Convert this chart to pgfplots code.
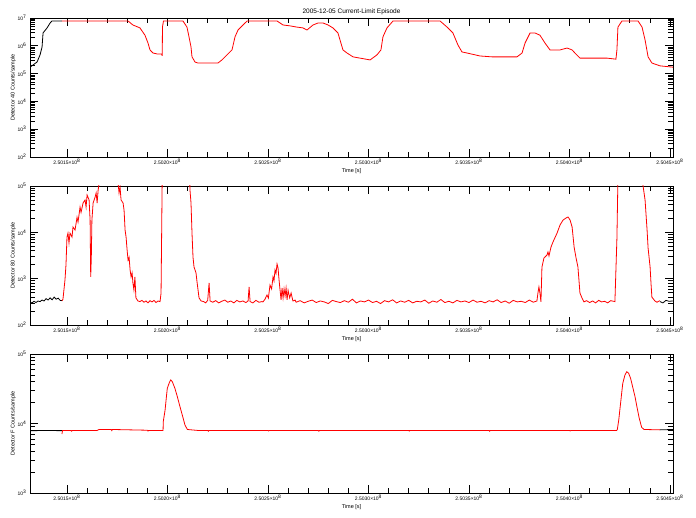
\documentclass[border=0pt]{standalone}
\usepackage{pgfplots}
\pgfplotsset{compat=1.18}
\usepackage{fontspec}
\setmainfont{Liberation Sans}

\pgfplotsset{
  idl/.style={
    scale only axis,
    width=643pt, height=139pt,
    anchor=south west,
    xmin=131.6, xmax=451.5,
    xtick={150,200,250,300,350,400,450},
    xticklabels={2.5015×10\textsuperscript{8},2.5020×10\textsuperscript{8},2.5025×10\textsuperscript{8},2.5030×10\textsuperscript{8},2.5035×10\textsuperscript{8},2.5040×10\textsuperscript{8},2.5045×10\textsuperscript{8}},
    minor x tick num=4,
    tick align=inside,
    xtick pos=both, ytick pos=both,
    major tick length=8pt, minor tick length=5pt,
    axis line style={line width=0.8pt},
    tick style={black, line width=0.6pt},
    tick label style={font=\fontsize{5}{6}\selectfont},
    x tick label style={yshift=1.5pt},
    label style={font=\fontsize{5.5}{6.5}\selectfont},
    xlabel={Time [s]},
    xlabel style={at={(axis description cs:0.5,0)}, anchor=north, yshift=-7.5pt},
    ylabel style={at={(axis description cs:0,0.5)}, anchor=south, inner sep=0pt, yshift=14pt},
  }
}

\begin{document}
\begin{tikzpicture}
\path[use as bounding box] (0,0) rectangle (696pt,518pt);

% panel 1
\begin{semilogyaxis}[idl, at={(30pt,361pt)},
  ymin=1e2, ymax=1e7,
  ytick={1e2,1e3,1e4,1e5,1e6,1e7},
  yticklabels={10\textsuperscript{2},10\textsuperscript{3},10\textsuperscript{4},10\textsuperscript{5},10\textsuperscript{6},10\textsuperscript{7}},
  ylabel={Detector 40 Counts/sample},
  title={2005-12-05 Current-Limit Episode},
  title style={font=\fontsize{6.5}{7.5}\selectfont, at={(axis description cs:0.5,1)}, anchor=south, yshift=-6pt},
]
\addplot[black, line width=0.8pt, mark=none] coordinates {
(131.6,1.7e5)(135.1,2.6e5)(136.6,4.7e5)(137.6,9.1e5)(138.1,2.9e6)(140.1,4.4e6)
(141.6,6.6e6)(142.5,7.8e6)(147.5,7.8e6)
};
\addplot[red, line width=0.8pt, mark=none] coordinates {
(147.5,7.8e6)(180.4,7.8e6)(182.8,5.6e6)(186.3,4.4e6)(188.8,2.4e6)(190.3,1.26e6)
(191.3,7.1e5)(192.8,5.5e5)(194.8,5.1e5)(197.0,5.1e5)(197.3,4.5e5)(197.4,4.5e5)
(197.5,4.7e6)(198.0,7.8e6)(207.7,7.8e6)(209.7,4.7e6)(210.7,2.1e6)(211.7,9.1e5)
(212.2,4.0e5)(213.7,2.6e5)(215.2,2.4e5)(225.1,2.4e5)(227.1,3.1e5)(229.6,4.7e5)
(232.1,7.1e5)(233.6,2.1e6)(235.1,3.7e6)(237.6,5.6e6)(239.6,7.8e6)(254.5,7.8e6)
(257.5,5.6e6)(261.0,5.2e6)(264.4,4.7e6)(267.4,4.4e6)(269.4,3.7e6)(272.4,5.6e6)
(274.9,6.6e6)(277.4,6.6e6)(279.9,5.6e6)(282.3,4.4e6)(284.8,2.9e6)(287.3,7.1e5)
(289.3,5.5e5)(292.3,4.0e5)(295.8,3.6e5)(300.8,3.1e5)(304.2,4.7e5)(306.2,7.1e5)
(307.2,2.1e6)(309.2,4.4e6)(312.2,7.8e6)(335.6,7.8e6)(339.1,4.7e6)(342.0,2.9e6)
(344.5,1.07e6)(346.5,6.0e5)(349.0,5.5e5)(355.5,4.3e5)(361.4,4.0e5)(373.9,4.0e5)
(376.4,5.5e5)(377.9,1.26e6)(380.4,2.9e6)(382.8,2.9e6)(385.3,2.4e6)(387.8,1.26e6)
(390.3,7.1e5)(395.3,7.1e5)(398.8,8.3e5)(401.3,7.1e5)(402.7,5.5e5)(405.2,3.6e5)
(418.7,3.6e5)(423.1,3.3e5)(423.6,7.1e5)(424.1,4.7e6)(426.1,7.8e6)(434.1,7.8e6)
(436.1,4.7e6)(437.6,1.62e6)(439.1,4.0e5)(441.0,2.4e5)(445.0,1.9e5)(451.5,1.7e5)
};
\end{semilogyaxis}

% panel 2
\begin{semilogyaxis}[idl, at={(30pt,193pt)},
  ymin=1e2, ymax=1e5,
  ytick={1e2,1e3,1e4,1e5},
  yticklabels={10\textsuperscript{2},10\textsuperscript{3},10\textsuperscript{4},10\textsuperscript{5}},
  ylabel={Detector 80 Counts/sample},
]
\addplot[black, line width=0.8pt, mark=none] coordinates {
(131.6,310)(132.6,300)(133.6,325)(134.6,305)(135.6,330)(136.6,320)(137.6,345)
(138.6,330)(139.6,370)(140.6,345)(141.6,385)(142.6,350)(143.6,400)(144.6,360)
(145.6,380)(146.6,340)(147.5,335)
};
\addplot[black, line width=0.8pt, mark=none] coordinates {
(445.0,320)(446.5,300)(448.0,340)(449.5,325)(451.5,330)
};
\addplot[red, line width=0.8pt, mark=none] coordinates {
(147.5,330)(148.0,360)(149.0,940)(149.5,1970)(150.0,7900)(150.5,9600)(151.0,5900)
(151.5,9600)(152.5,7900)(153.0,13000)(154.0,11200)(155.0,21000)(155.5,16700)
(156.5,35000)(157.0,27000)(158.0,43000)(159.0,50000)(159.5,35000)(160.0,64000)
(161.0,50000)(161.5,18400)(161.8,1090)(162.1,2800)(162.4,18400)(163.0,43000)
(164.0,58000)(164.5,70600)(165.0,43000)(165.5,82000)(166.4,150000)(168,300000)
(170,200000)(172,400000)(174,200000)(175.4,120000)(175.9,70600)(176.4,95000)
(176.9,50000)(177.9,43000)(178.4,30000)(178.9,11200)(179.4,7900)(179.9,4200)
(180.4,2500)(180.9,2900)(181.4,1540)(181.9,1090)(182.4,1330)(182.8,808)(183.3,570)
(183.8,1090)(184.3,385)(185.3,330)(186.3,320)(187.3,340)(188.3,310)(189.3,330)
(190.3,300)(191.3,335)(192.3,315)(193.3,340)(194.3,305)(195.3,330)(196.3,320)
(196.8,490)(197.4,200000)(200,300000)(205,300000)(210,300000)(211.0,150000)
(211.2,82000)(211.7,43000)(212.2,9600)(212.7,2900)(213.2,1780)(214.2,1330)
(214.7,850)(215.2,570)(215.7,385)(216.7,330)
(218.0,320)(219.0,300)(220.0,340)(220.7,808)(221.2,330)(222.5,310)(224.0,335)
(225.5,300)(227.0,325)(228.5,345)(230.0,310)(231.5,330)(233.0,300)(234.5,340)
(236.0,315)(237.5,330)(239.0,305)(240.1,330)(240.6,662)(241.1,320)(242.5,300)
(244.0,340)(245.5,310)(247.0,320)(247.5,315)
(248.5,360)(249.5,443)(250.2,380)(251.0,728)(251.8,600)(252.5,1090)(253.0,900)
(253.5,1540)(254.0,1300)(254.5,2070)(255.0,1700)(255.5,940)(256.0,570)(256.5,348)
(257.0,630)(257.5,385)(258.0,600)(258.5,420)(259.0,630)(259.5,350)(260.0,560)
(260.8,385)(261.5,490)(262.4,330)(263.5,345)
(264,310)(266,335)(268,300)(270,325)(272,345)(274,305)(276,330)(278,315)(280,290)
(282,340)(284,320)(286,305)(288,335)(290,310)(292,360)(294,300)(296,330)(298,315)
(300,345)(302,305)(304,325)(306,290)(308,335)(310,315)(312,350)(314,300)(316,330)
(318,310)(320,340)(322,300)(324,325)(326,315)(328,345)(330,295)(332,330)(334,310)
(336,355)(338,305)(340,325)(342,300)(344,340)(346,315)(348,330)(350,305)(352,345)
(354,310)(356,325)(358,300)(360,335)(362,315)(364,350)(366,305)(368,330)(370,295)
(372,340)(374,315)(376,325)(378,305)(380,345)(382,310)(383.8,330)
(384.3,490)(384.8,662)(385.3,490)(385.8,315)(386.3,1780)(387.3,2800)(388.8,3230)
(389.3,3760)(389.8,3100)(390.8,4800)(391.8,6200)(393.8,9600)(395.3,14400)
(396.8,18400)(398.3,20400)(399.3,21400)(400.3,18400)(401.3,13000)(402.3,4800)
(403.2,2900)(404.2,1780)(404.7,940)(405.2,490)(406.2,385)(407.2,315)(408.5,335)
(410,305)(411.5,330)(413,300)(414.5,340)(416,315)(417.5,325)(419,300)(420.5,335)
(422.6,320)(423.6,7500)(424.1,150000)(430,300000)(436.0,150000)(436.6,100000)
(437.6,50000)(438.6,11200)(439.1,4600)(440.1,1780)(440.6,730)(441.0,400)
(442.5,330)(443.5,310)(445.0,335)
};
\end{semilogyaxis}

% panel 3
\begin{semilogyaxis}[idl, at={(30pt,25pt)},
  ymin=1e3, ymax=1e5,
  ytick={1e3,1e4,1e5},
  yticklabels={10\textsuperscript{3},10\textsuperscript{4},10\textsuperscript{5}},
  ylabel={Detector F Counts/sample},
]
\addplot[black, line width=0.8pt, mark=none] coordinates {
(131.6,7900)(135,7900)(140,7950)(145,7900)(147.5,7900)
};
\addplot[black, line width=0.8pt, mark=none] coordinates {
(445.0,8100)(451.5,8200)
};
\addplot[red, line width=0.8pt, mark=none] coordinates {
(147.5,7060)(147.8,7950)(152,7950)(152.3,7750)(152.6,7950)(165,7950)(166,8200)
(172,8200)(172.3,7900)(172.6,8200)(190,8000)(190.3,7800)(190.6,7950)(197.8,7950)
(197.9,10600)(198.8,15600)(199.3,21800)(199.9,32000)(200.9,38600)(201.6,42300)
(202.4,40000)(203.7,32000)(204.9,24300)(206.2,17500)(207.6,12500)(208.7,9500)
(209.9,8200)(215,7950)(220,7950)(220.3,7750)(220.6,7950)(250,7950)(250.3,7800)
(250.6,7950)(275,7950)(275.3,7750)(275.6,7950)(320,7950)(320.3,7800)(320.6,7950)
(360,7950)(360.3,7750)(360.6,7950)(400,7950)(400.3,7800)(400.6,7950)(423.5,7950)
(423.8,8200)(424.5,11200)(425.5,20600)(426.5,37800)(427.6,49900)(428.5,55600)
(429.4,53000)(430.4,44700)(431.4,33900)(432.6,24300)(433.7,16500)(434.7,11900)
(435.9,8800)(437.1,8200)(445.0,8100)
};
\end{semilogyaxis}
\end{tikzpicture}
\end{document}
